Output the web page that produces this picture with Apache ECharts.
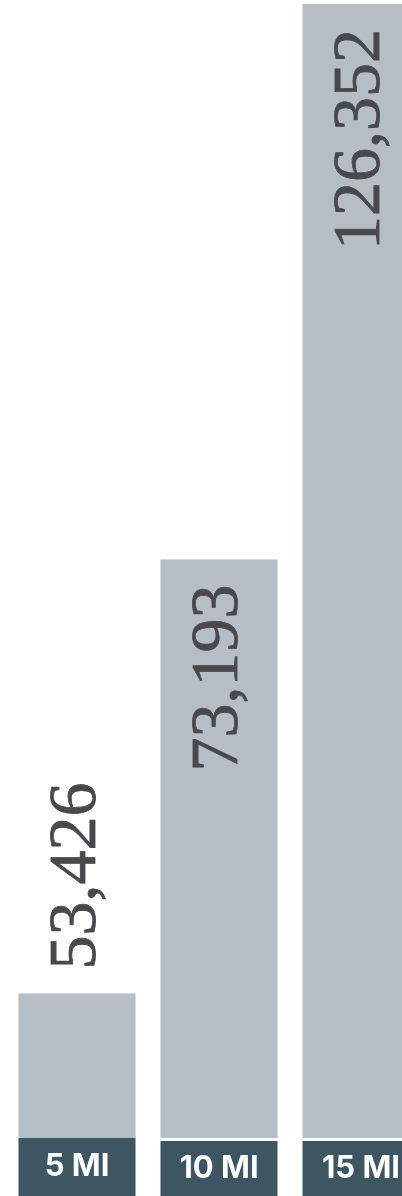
<!DOCTYPE html>
<html>
<head>
<meta charset="utf-8">
<script src="https://cdn.jsdelivr.net/npm/echarts@6/dist/echarts.min.js"></script>
<style>
  html, body { margin: 0; padding: 0; background: #fff; overflow: hidden; }
  #bars { width: 440px; height: 1196px; }
</style>
</head>
<body>
<div id="bars"></div>
<script>
// 各半径范围内人数
var radiusLabels = ['5 MI', '10 MI', '15 MI'];
var residents = [53426, 73193, 126352];
// 柱高按面积(平方英里)
var ringArea = [78.5, 314.2, 706.9];

(function () {
  var bars = echarts.init(document.getElementById('bars'));

  var data = ringArea.map(function (v, i) {
    var item = { value: v };
    if (i === 0) {
      item.label = { position: 'top', align: 'left', verticalAlign: 'middle', distance: 24 };
    }
    return item;
  });

  var boxStyle = {
    width: 117,
    backgroundColor: '#3e5562',
    color: '#fff',
    fontFamily: 'Inter',
    fontWeight: 700,
    fontSize: 31,
    align: 'center'
  };

  var option = {
    animation: false,
    grid: { left: 6, top: 4, width: 426, bottom: 58 },
    xAxis: {
      type: 'category',
      data: radiusLabels,
      z: 5,
      axisLine: { show: false },
      axisTick: { show: false },
      axisLabel: {
        interval: 0,
        margin: 58,
        verticalAlign: 'bottom',
        formatter: function (v, i) {
          return (i === 0 ? '{tall|' : '{box|') + v + '}';
        },
        rich: {
          tall: Object.assign({ height: 58, lineHeight: 58 }, boxStyle),
          box: Object.assign({ height: 55, lineHeight: 55 }, boxStyle)
        }
      }
    },
    yAxis: {
      type: 'value',
      min: 0,
      max: 616,
      show: false,
      splitLine: { show: false }
    },
    series: [{
      type: 'bar',
      barWidth: 117,
      clip: true,
      itemStyle: { color: '#b5bdc5' },
      label: {
        show: true,
        position: 'insideTop',
        rotate: 90,
        align: 'right',
        verticalAlign: 'middle',
        distance: 25,
        fontFamily: 'Liberation Serif',
        fontSize: 68,
        color: '#47494c',
        textBorderColor: '#47494c',
        textBorderWidth: 0.8,
        formatter: function (p) {
          return residents[p.dataIndex].toLocaleString('en-US');
        }
      },
      data: data
    }]
  };

  bars.setOption(option);
})();
</script>
</body>
</html>
